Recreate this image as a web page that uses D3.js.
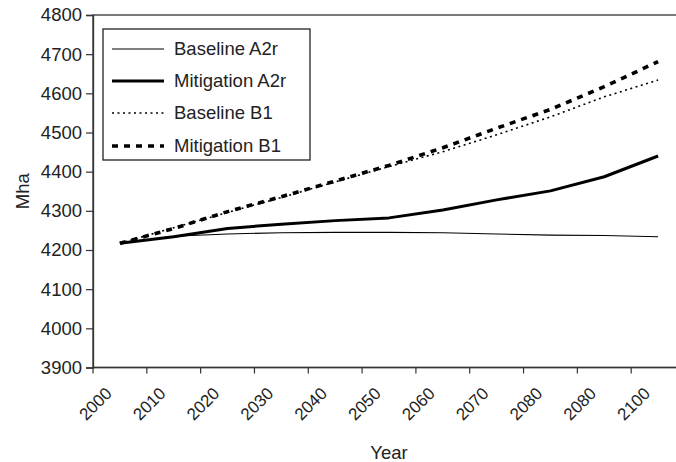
<!DOCTYPE html>
<html>
<head>
<meta charset="utf-8">
<script src="https://cdn.jsdelivr.net/npm/d3@7"></script>
<style>
  html, body { margin: 0; padding: 0; background: #fff; }
  svg { display: block; font-family: "Liberation Sans", Arial, sans-serif; }
</style>
</head>
<body>
<svg id="chart" width="676" height="462"></svg>
<script>
// Category labels (as printed, including the repeated 2080)
const yearLabels = ["2000", "2010", "2020", "2030", "2040", "2050", "2060", "2070", "2080", "2080", "2100"];
const yTicks = [3900, 4000, 4100, 4200, 4300, 4400, 4500, 4600, 4700, 4800];

const baselineA2r   = [4217, 4235, 4241, 4244, 4245, 4245, 4244, 4241, 4238, 4237, 4234];
const mitigationA2r = [4217, 4234, 4255, 4266, 4275, 4282, 4302, 4328, 4351, 4387, 4440];
const baselineB1    = [4217, 4257, 4296, 4334, 4374, 4413, 4451, 4494, 4540, 4591, 4634];
const mitigationB1  = [4217, 4255, 4298, 4336, 4376, 4416, 4461, 4511, 4559, 4617, 4681];

const seriesNames = ["Baseline A2r", "Mitigation A2r", "Baseline B1", "Mitigation B1"];

const styles = {
  "Baseline A2r":   { width: 1.1, dash: null },
  "Mitigation A2r": { width: 3, dash: null },
  "Baseline B1":    { width: 1.6, dash: "2,3.5" },
  "Mitigation B1":  { width: 3.6, dash: "6,6" }
};

const series = [
  { name: seriesNames[0], values: baselineA2r },
  { name: seriesNames[1], values: mitigationA2r },
  { name: seriesNames[2], values: baselineB1 },
  { name: seriesNames[3], values: mitigationB1 }
];

const svg = d3.select("#chart");
const plotL = 93, plotR = 685, plotT = 15, plotB = 367.5;

const x = d3.scaleBand().domain(d3.range(yearLabels.length)).range([plotL, plotR]).paddingInner(0).paddingOuter(0);
const y = d3.scaleLinear().domain([3900, 4800]).range([plotB, plotT]);

const axisColor = "#333";
const fontSize = 18.5;
const xFontSize = 17;

// plot frame (top line + right side off-canvas)
svg.append("rect")
  .attr("x", plotL).attr("y", plotT)
  .attr("width", plotR - plotL).attr("height", plotB - plotT)
  .attr("fill", "none").attr("stroke", axisColor).attr("stroke-width", 1.3);

// Y axis
const yAxis = d3.axisLeft(y).tickValues(yTicks).tickSize(7).tickPadding(4).tickFormat(d3.format("d"));
const gy = svg.append("g").attr("transform", `translate(${plotL},0)`).call(yAxis);
gy.select(".domain").attr("stroke", axisColor).attr("stroke-width", 1.3);
gy.selectAll(".tick line").attr("stroke", axisColor).attr("stroke-width", 1.2);
gy.selectAll(".tick text").attr("font-size", fontSize).attr("fill", "#222")
  .attr("font-family", "Liberation Sans, Arial, sans-serif");

// X axis: ticks at band boundaries
const xBoundaries = d3.range(yearLabels.length + 1).map(i => plotL + i * x.bandwidth());
const gx = svg.append("g");
gx.append("line").attr("x1", plotL).attr("x2", plotR).attr("y1", plotB).attr("y2", plotB)
  .attr("stroke", axisColor).attr("stroke-width", 1.3);
gx.selectAll("line.tk").data(xBoundaries).join("line").attr("class", "tk")
  .attr("x1", d => d).attr("x2", d => d).attr("y1", plotB).attr("y2", plotB + 6)
  .attr("stroke", axisColor).attr("stroke-width", 1.2);
gx.selectAll("text").data(yearLabels).join("text")
  .attr("transform", (d, i) => `translate(${x(i) + x.bandwidth() / 2 - 7},${plotB + 27}) rotate(-45)`)
  .attr("text-anchor", "end")
  .attr("font-size", xFontSize).attr("fill", "#222")
  .text(d => d);

// Axis titles
svg.append("text")
  .attr("transform", `translate(29,${(plotT + plotB) / 2}) rotate(-90)`)
  .attr("text-anchor", "middle").attr("font-size", fontSize).attr("fill", "#222")
  .text("Mha");
svg.append("text")
  .attr("x", (plotL + plotR) / 2).attr("y", 459)
  .attr("text-anchor", "middle").attr("font-size", fontSize).attr("fill", "#222")
  .text("Year");

// Lines
const line = d3.line()
  .x((d, i) => x(i) + x.bandwidth() / 2)
  .y(d => y(d));

svg.append("g").selectAll("path").data(series).join("path")
  .attr("d", d => line(d.values))
  .attr("fill", "none")
  .attr("stroke", "#000")
  .attr("stroke-width", d => styles[d.name].width)
  .attr("stroke-dasharray", d => styles[d.name].dash)
  .attr("stroke-linejoin", "round");

// Legend
const lg = svg.append("g");
lg.append("rect").attr("x", 103).attr("y", 29).attr("width", 207).attr("height", 131)
  .attr("fill", "#fff").attr("stroke", "#222").attr("stroke-width", 1.3);
const rowY = [49, 81, 113, 146];
series.forEach((s, i) => {
  lg.append("line").attr("x1", 112).attr("x2", 164).attr("y1", rowY[i]).attr("y2", rowY[i])
    .attr("stroke", "#000").attr("stroke-width", styles[s.name].width)
    .attr("stroke-dasharray", styles[s.name].dash);
  lg.append("text").attr("x", 174).attr("y", rowY[i]).attr("dy", "0.35em")
    .attr("font-size", fontSize).attr("fill", "#222").text(s.name);
});
</script>
</body>
</html>
